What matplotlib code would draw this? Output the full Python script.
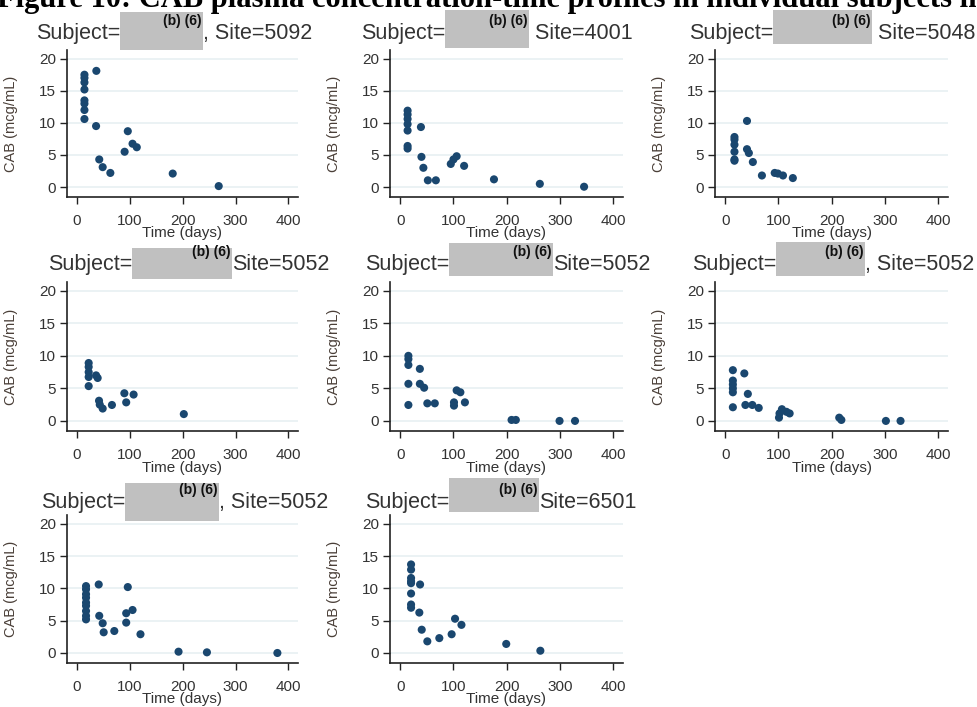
import matplotlib.pyplot as plt
from matplotlib.patches import Rectangle

plt.rcParams['font.family'] = ['Liberation Sans', 'DejaVu Sans']

W, H = 977, 707  # output size in pixels (dpi 100)

# ---- data (days, mcg/mL) ----
t1 = [14, 14, 14, 14, 14, 14, 14, 14, 36.5, 36, 42, 48.5, 63, 90, 96, 105, 113, 181, 268]
c1 = [17.5, 17.0, 16.3, 15.2, 13.5, 13.0, 12.0, 10.6, 18.1, 9.5, 4.3, 3.1, 2.2, 5.5, 8.7, 6.75, 6.2, 2.1, 0.15]

t2 = [14, 14, 14, 14, 14, 14, 14, 39, 40, 43.6, 52, 67, 95, 100, 106, 120, 176, 262, 345]
c2 = [11.9, 11.3, 10.6, 9.8, 8.8, 6.4, 6.0, 9.35, 4.7, 3.0, 1.05, 1.05, 3.6, 4.3, 4.8, 3.3, 1.2, 0.5, 0.05]

t3 = [17.5, 17.5, 17.5, 17.5, 17.5, 17.5, 41, 41, 44.5, 52, 69, 93, 99, 108.5, 127]
c3 = [7.8, 7.4, 6.6, 5.5, 4.3, 4.1, 10.3, 5.9, 5.3, 3.9, 1.8, 2.2, 2.1, 1.8, 1.4]

t4 = [22, 22, 22, 22, 22, 36, 39, 41.6, 43, 48.5, 66, 89.5, 93, 107, 202]
c4 = [8.9, 8.3, 7.5, 6.75, 5.35, 7.0, 6.6, 3.1, 2.5, 1.9, 2.45, 4.25, 2.85, 4.05, 1.05]

t5 = [15.5, 15.5, 15.5, 15.5, 15.5, 37, 37, 45, 51, 65, 101, 101, 106, 113, 121.5, 209, 217, 299, 328]
c5 = [10.0, 9.5, 8.6, 5.7, 2.45, 8.0, 5.7, 5.1, 2.7, 2.7, 2.85, 2.35, 4.7, 4.4, 2.85, 0.15, 0.15, 0.0, 0.0]

t6 = [14.5, 14.5, 14.5, 14.5, 14.5, 14.5, 36, 42.6, 38, 51, 63, 101, 102, 106.5, 115, 121, 214, 218, 301.5, 329]
c6 = [7.8, 6.2, 5.6, 5.0, 4.4, 2.1, 7.3, 4.15, 2.45, 2.45, 2.0, 0.5, 1.15, 1.8, 1.4, 1.15, 0.5, 0.15, 0.0, 0.0]

t7 = [17, 17, 17, 17, 17, 17, 17, 17, 17, 41, 42, 48.5, 50.4, 70.5, 93, 93, 96, 105, 120, 192, 245.7, 379]
c7 = [10.35, 9.85, 9.1, 8.55, 7.8, 7.3, 6.5, 5.75, 5.2, 10.6, 5.75, 4.6, 3.2, 3.4, 4.7, 6.15, 10.2, 6.65, 2.9, 0.2, 0.1, 0.0]

t8 = [20.5, 20.5, 20.5, 20.5, 20.5, 20.5, 20.5, 20.5, 37.4, 36, 40.5, 51, 73.5, 96.6, 103, 115, 199, 263]
c8 = [13.7, 12.9, 11.6, 11.1, 10.8, 9.2, 7.5, 7.0, 10.6, 6.25, 3.6, 1.8, 2.3, 2.9, 5.3, 4.35, 1.4, 0.35]

times = [t1, t2, t3, t4, t5, t6, t7, t8]
concs = [c1, c2, c3, c4, c5, c6, c7, c8]

# text after the redacted subject id, as printed
site_text = [", Site=5092", " Site=4001", " Site=5048", "Site=5052",
             "Site=5052", ", Site=5052", ", Site=5052", "Site=6501"]

x_ticks = [0, 100, 200, 300, 400]
y_ticks = [0, 5, 10, 15, 20]

# ---- layout (pixels, top-left origin) ----
col_left = [67, 390, 715]
col_right = [298, 623, 948]
row_top = [50, 282, 515]
row_bot = [197, 431, 663]
title_base = [39, 270, 508]
# redaction boxes: left, right, top, bottom
boxes = [(120, 203, 12, 50), (445, 529, 10, 48), (773, 872, 10, 44),
         (132, 232, 248, 279), (449, 553, 243, 276), (776, 865, 242, 276),
         (125, 219, 483, 521), (449, 539, 478, 512)]

navy = '#1a476f'
grid_col = '#e6eff1'
txt_col = '#333333'
lab_col = '#4a3f38'


def fx(x):
    return x / W


def fy(y):
    return 1 - y / H


fig = plt.figure(figsize=(W / 100, H / 100), dpi=100)
fig.patch.set_facecolor('white')

# figure heading, clipped by the top edge as in the scan
fig.text(fx(-3), fy(7), "Figure 10: CAB plasma concentration-time profiles in individual subjects in",
         family='Liberation Serif', fontweight='bold', fontsize=22, va='baseline', ha='left')

for i in range(8):
    r, c = divmod(i, 3)
    ax = fig.add_axes([fx(col_left[c]), fy(row_bot[r]),
                       (col_right[c] - col_left[c]) / W, (row_bot[r] - row_top[r]) / H])
    ax.set_xlim(-19, 418)
    ax.set_ylim(-1.55, 21.35)
    for yv in y_ticks:
        ax.axhline(yv, color=grid_col, lw=1.1, zorder=0)
    ax.scatter(times[i], concs[i], s=34, color=navy, edgecolors='none', zorder=3)

    ax.set_xticks(x_ticks)
    ax.set_yticks(y_ticks)
    ax.tick_params(axis='both', direction='out', length=5, width=1, colors='#222222',
                   labelcolor=txt_col, labelsize=11)
    ax.tick_params(axis='x', pad=7)
    ax.tick_params(axis='y', pad=3)
    for s in ['top', 'right']:
        ax.spines[s].set_visible(False)
    for s in ['left', 'bottom']:
        ax.spines[s].set_color('#222222')
        ax.spines[s].set_linewidth(1.2)

    ax.set_ylabel("CAB (mcg/mL)", fontsize=10.5, color=lab_col)
    ax.yaxis.set_label_coords(-0.21, 0.5)
    ax.set_xlabel("Time (days)", fontsize=11, color=txt_col, va='center')
    ax.xaxis.set_label_coords(0.5, -0.245)

    # panel title with the redacted subject id
    bl, br, bt, bb = boxes[i]
    fig.patches.append(Rectangle((fx(bl), fy(bb)), (br - bl) / W, (bb - bt) / H,
                                 transform=fig.transFigure, facecolor='#c0c0c0',
                                 edgecolor='none', zorder=2))
    fig.text(fx(bl), fy(title_base[r]), "Subject=", fontsize=15.5, color=txt_col,
             ha='right', va='baseline')
    fig.text(fx(br), fy(title_base[r]), site_text[i], fontsize=15.5, color=txt_col,
             ha='left', va='baseline')
    fig.text(fx(br - 1), fy(title_base[r] - 18), "(b) (6)", fontsize=10, fontweight='bold',
             color='#111111', ha='right', va='center', zorder=5)

fig.savefig("out.png", dpi=100)
